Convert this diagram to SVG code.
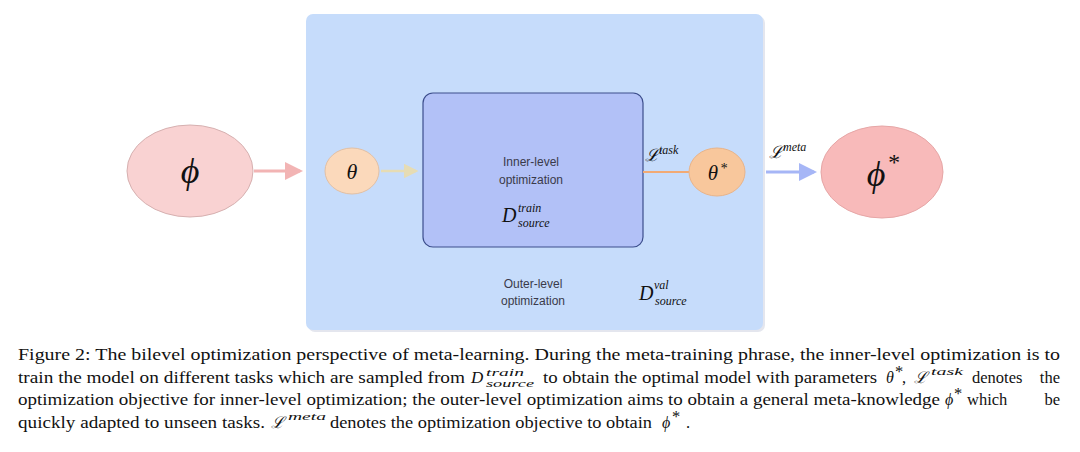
<svg xmlns="http://www.w3.org/2000/svg" width="1080" height="452" viewBox="0 0 1080 452">
<style>
.sans{font-family:"Liberation Sans",Arial,sans-serif;font-size:12px;fill:#3a3a4a;text-anchor:middle}
.math{font-family:"Liberation Serif","DejaVu Serif",serif;font-style:italic;fill:#111}
.cap{font-family:"Liberation Serif","Times New Roman",serif;font-size:16.5px;fill:#111}
.capm{font-family:"Liberation Serif","DejaVu Serif",serif;font-style:italic;fill:#111}
</style>
<defs>
<marker id="ahPink" markerWidth="6" markerHeight="6" refX="5" refY="3" orient="auto" markerUnits="strokeWidth"><path d="M0,0 L6,3 L0,6 z" fill="#f2b4b4"/></marker>
<marker id="ahYel" markerWidth="6" markerHeight="6" refX="5" refY="3" orient="auto" markerUnits="strokeWidth"><path d="M0,0 L6,3 L0,6 z" fill="#e6dcb4"/></marker>
<marker id="ahBlue" markerWidth="6" markerHeight="6" refX="5" refY="3" orient="auto" markerUnits="strokeWidth"><path d="M0,0 L6,3 L0,6 z" fill="#a6b6f6"/></marker>
</defs>
<rect width="1080" height="452" fill="#ffffff"/>

<g id="outer">
<rect x="308" y="16" width="457" height="316" rx="7" fill="#e4e6ee"/>
<rect x="306" y="14" width="457" height="316" rx="7" fill="#c6dcfb"/>
<text class="sans" x="533" y="288">Outer-level</text>
<text class="sans" x="533" y="305">optimization</text>
<text class="math" x="639" y="300" font-size="20">D</text>
<text class="math" x="654" y="289" font-size="12">val</text>
<text class="math" x="655" y="305" font-size="12">source</text>
</g>

<g id="inner">
<rect x="423" y="93" width="220" height="154" rx="10" fill="#b2c1f7" stroke="#3c4e8c" stroke-width="1.2"/>
<text class="sans" x="531" y="166">Inner-level</text>
<text class="sans" x="531" y="184">optimization</text>
<text class="math" x="502" y="222" font-size="20">D</text>
<text class="math" x="518" y="212" font-size="12">train</text>
<text class="math" x="518" y="227" font-size="12">source</text>
</g>

<g id="connectors">
<line x1="254" y1="171" x2="300" y2="171" stroke="#f2b4b4" stroke-width="3" marker-end="url(#ahPink)"/>
<line x1="381" y1="171" x2="416" y2="171" stroke="#e6dcb4" stroke-width="2.5" marker-end="url(#ahYel)"/>
<line x1="643" y1="172" x2="690" y2="172" stroke="#f2aa74" stroke-width="2"/>
<line x1="766" y1="172" x2="814" y2="172" stroke="#a6b6f6" stroke-width="3" marker-end="url(#ahBlue)"/>
<text class="math" x="645" y="161" font-size="17">ℒ</text>
<text class="math" x="659" y="154" font-size="12">task</text>
<text class="math" x="769" y="158" font-size="17">ℒ</text>
<text class="math" x="783" y="151" font-size="12">meta</text>
</g>

<g id="phi">
<ellipse cx="190" cy="171" rx="63" ry="46" fill="#f9d2d2" stroke="#d6b0b0" stroke-width="1"/>
<text class="math" x="190" y="183" font-size="36" text-anchor="middle">ϕ</text>
</g>

<g id="theta">
<ellipse cx="352" cy="171" rx="27" ry="23" fill="#fbd9bb" stroke="#e2c0a4" stroke-width="1"/>
<text class="math" x="352" y="179" font-size="22" text-anchor="middle">θ</text>
</g>

<g id="thetastar">
<ellipse cx="717" cy="172" rx="28" ry="24" fill="#f8c79c" stroke="#e8b48a" stroke-width="1"/>
<text class="math" x="713" y="180" font-size="21" text-anchor="middle">θ</text>
<text class="math" x="720" y="173" font-size="14">*</text>
</g>

<g id="phistar">
<ellipse cx="882" cy="172" rx="61" ry="46" fill="#f8baba" stroke="#e6a6a6" stroke-width="1"/>
<text class="math" x="876" y="186" font-size="36" text-anchor="middle">ϕ</text>
<text class="math" x="887" y="170" font-size="24">*</text>
</g>

<g id="caption">
<text class="cap" x="18" y="360" textLength="1042" lengthAdjust="spacingAndGlyphs">Figure 2: The bilevel optimization perspective of meta-learning. During the meta-training phrase, the inner-level optimization is to</text>

<text class="cap" x="18" y="382.5" textLength="447" lengthAdjust="spacingAndGlyphs">train the model on different tasks which are sampled from</text>
<text class="capm" x="471" y="382.5" font-size="17">D</text>
<text class="capm" x="486" y="376" font-size="11" textLength="38" lengthAdjust="spacingAndGlyphs">train</text>
<text class="capm" x="486" y="387" font-size="11" textLength="48" lengthAdjust="spacingAndGlyphs">source</text>
<text class="cap" x="543" y="382.5" textLength="334" lengthAdjust="spacingAndGlyphs">to obtain the optimal model with parameters</text>
<text class="capm" x="886" y="382.5" font-size="16">θ</text>
<text class="cap" x="895" y="377" font-size="10">*</text>
<text class="cap" x="902" y="382.5">,</text>
<text class="capm" x="914" y="382.5" font-size="16">ℒ</text>
<text class="capm" x="931" y="375" font-size="11" textLength="32" lengthAdjust="spacingAndGlyphs">task</text>
<text class="cap" x="972" y="382.5">denotes</text>
<text class="cap" x="1060" y="382.5" text-anchor="end">the</text>

<text class="cap" x="18" y="405" textLength="922" lengthAdjust="spacingAndGlyphs">optimization objective for inner-level optimization; the outer-level optimization aims to obtain a general meta-knowledge</text>
<text class="capm" x="945" y="405" font-size="16">ϕ</text>
<text class="cap" x="954" y="399" font-size="10">*</text>
<text class="cap" x="967" y="405">which</text>
<text class="cap" x="1060" y="405" text-anchor="end">be</text>

<text class="cap" x="18" y="427.5" textLength="247" lengthAdjust="spacingAndGlyphs">quickly adapted to unseen tasks.</text>
<text class="capm" x="271" y="427.5" font-size="16">ℒ</text>
<text class="capm" x="288" y="420" font-size="11" textLength="38" lengthAdjust="spacingAndGlyphs">meta</text>
<text class="cap" x="330" y="427.5" textLength="322" lengthAdjust="spacingAndGlyphs">denotes the optimization objective to obtain</text>
<text class="capm" x="662" y="427.5" font-size="16">ϕ</text>
<text class="cap" x="672" y="422" font-size="10">*</text>
<text class="cap" x="686" y="427.5">.</text>
</g>
</svg>
